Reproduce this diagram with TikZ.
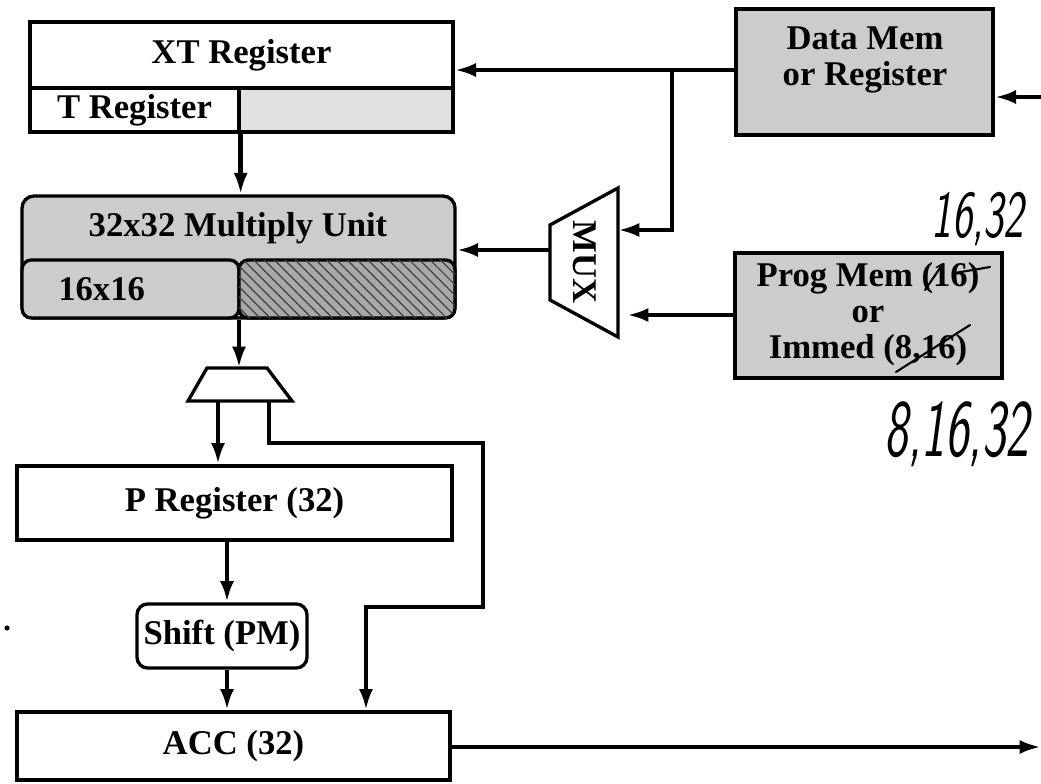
\documentclass[tikz,border=0pt]{standalone}
\usepackage{fontspec}
\setmainfont{Liberation Serif}
\usetikzlibrary{arrows.meta,patterns.meta,fit}

\begin{document}
\begin{tikzpicture}[x=0.75pt,y=-0.75pt,
  lbl/.style={font=\fontsize{26}{27}\selectfont\bfseries, align=center, inner sep=0pt},
  box/.style={draw, line width=2.5pt, inner sep=0pt},
  wire/.style={line width=3.4pt},
  arr/.style={wire, -{Latex[length=16pt,width=10.5pt]}},
  hand/.style={font=\fontsize{36}{38}\selectfont\sffamily\itshape, inner sep=0pt},
  strike/.style={line width=1.6pt, line cap=round},
  shade/.style={fill=black!20},
  light/.style={fill=black!12},
  hatch/.style={fill=black!34, postaction={pattern={Lines[angle=-45,distance=5.5pt,line width=0.9pt]}, pattern color=black!75}},
]
\useasboundingbox (0,0) rectangle (1041,784);

% ---- XT / T register ----
\node[box, fit={(30,22) (453,88)}] (xt) {};
\node[lbl] (xtt) at (xt.center) {XT Register};
\node[box, fit={(30,88) (239,132)}] (t) {};
\node[lbl] (tt) at (t.center) {T Register};
\node[box, light, fit={(239,88) (453,132)}] (tx) {};

% ---- data memory ----
\node[box, shade, fit={(736,9) (993,135)}] (dm) {};
\node[lbl] (dmt) at (865,60) {Data Mem\\or Register};

% ---- multiply unit ----
\node[box, shade, rounded corners=9pt, fit={(22,196) (455,318)}] (mul) {};
\node[lbl] (mult) at (238,228) {32x32 Multiply Unit};
\node[box, shade, rounded corners=7pt, fit={(22,260) (239,318)}] (m16) {};
\node[lbl, anchor=west] (m16t) at (58,289) {16x16};
\node[box, hatch, rounded corners=7pt, fit={(239,260) (455,318)}] (mh) {};

% ---- multiplexer ----
\coordinate (mtl) at (550,225);
\coordinate (mtr) at (618,188);
\coordinate (mbr) at (618,337);
\coordinate (mbl) at (550,300);
\draw[line width=2.5pt, line join=miter] (mtl) -- (mtr) -- (mbr) -- (mbl) -- cycle;
\node[lbl, rotate=-90] (muxt) at (585,262) {MUX};

% ---- program memory / immediate ----
\node[box, shade, fit={(735,253) (1002,378)}] (pm) {};
\node[lbl] (pmt) at (868,314) {Prog Mem (16)\\or\\Immed (8,16)};
% hand corrections over the widths
\draw[strike] (925,290) -- (940,268);
\draw[strike] (955,273) -- (990,267);
\draw[strike] (896,372) -- (970,325);
\node[hand] (h1) at (978,219) {\scalebox{0.9}[1.4]{16,32}};
\node[hand] (h2) at (957,434) {\scalebox{1.05}[1.7]{8,16,32}};

% ---- product selector ----
\coordinate (stl) at (207,368);
\coordinate (str) at (267,368);
\coordinate (sbr) at (292,401);
\coordinate (sbl) at (188,401);
\draw[line width=2.5pt] (stl) -- (str) -- (sbr) -- (sbl) -- cycle;
\coordinate (stop) at (239,368);
\coordinate (so1) at (218,401);
\coordinate (so2) at (269,401);

% ---- P register, shifter, accumulator ----
\node[box, fit={(17,466) (452,540)}] (preg) {};
\node[lbl] (pregt) at (preg.center) {P Register (32)};
\node[box, rounded corners=8pt, fit={(137,604) (307,668)}] (shift) {};
\node[lbl] (shiftt) at (shift.center) {Shift (PM)};
\node[box, fit={(17,712) (450,780)}] (acc) {};
\node[lbl] (acct) at (acc.center) {ACC (32)};

% ---- connectors ----
\coordinate (j) at (672,70);
\coordinate (mi1) at (618,230);
\coordinate (mo) at (550,250);
\coordinate (mi2) at (627,315);
\coordinate (din) at (1041,97);
\coordinate (fa) at (483,443);
\coordinate (fb) at (366,607);
\coordinate (px) at (227,0);
\coordinate (dout) at (1041,747);

\draw[arr] (dm.west |- j) -- (xt.east |- j);
\draw[arr] (j) |- (mi1);
\draw[arr] (din) -- (dm.east |- din);
\draw[arr] (mo) -- (mul.east |- mo);
\draw[arr] (pm.west |- mi2) -- (mi2);
\draw[arr] (t.south east) -- (t.south east |- mul.north);
\draw[arr] (mul.south -| stop) -- (stop);
\draw[arr] (so1) -- (so1 |- preg.north);
\draw[arr] (so2) |- (fa) |- (fb) -- (fb |- acc.north);
\draw[arr] (preg.south -| px) -- (shift.north -| px);
\draw[arr] (shift.south -| px) -- (acc.north -| px);
\draw[arr] (acc.east |- dout) -- (dout);

\fill (7,628) circle (2.6);
\end{tikzpicture}
\end{document}
